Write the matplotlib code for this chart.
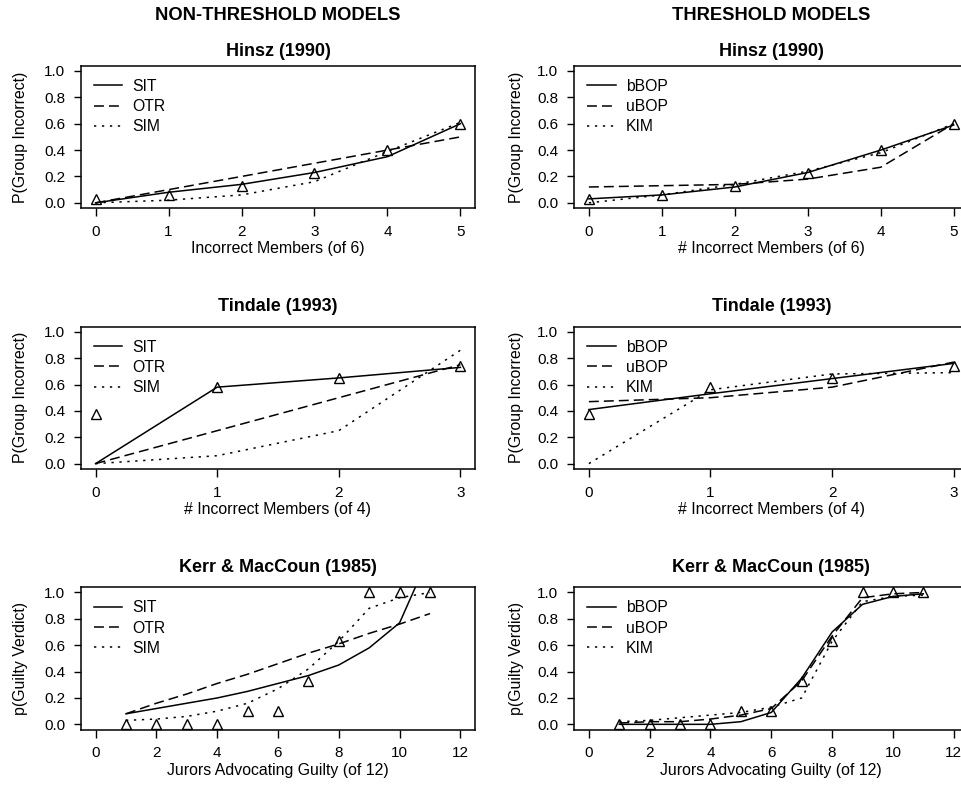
import matplotlib
matplotlib.use("Agg")
import matplotlib.pyplot as plt

plt.rcParams['font.family'] = ['Liberation Sans', 'DejaVu Sans']

# ---------------- data ----------------
hinsz_x = [0, 1, 2, 3, 4, 5]
hinsz_obs = [0.03, 0.06, 0.13, 0.23, 0.40, 0.60]
hinsz_sit = [0.00, 0.08, 0.14, 0.23, 0.35, 0.60]
hinsz_otr = [0.00, 0.10, 0.20, 0.30, 0.40, 0.50]
hinsz_sim = [0.00, 0.02, 0.06, 0.16, 0.39, 0.61]
hinsz_bbop = [0.03, 0.06, 0.12, 0.23, 0.40, 0.59]
hinsz_ubop = [0.12, 0.13, 0.14, 0.18, 0.27, 0.60]
hinsz_kim = [0.00, 0.06, 0.14, 0.24, 0.38, 0.60]

tind_x = [0, 1, 2, 3]
tind_obs = [0.38, 0.58, 0.65, 0.74]
tind_sit = [0.00, 0.58, 0.65, 0.73]
tind_otr = [0.00, 0.25, 0.50, 0.75]
tind_sim = [0.00, 0.06, 0.25, 0.86]
tind_bbop = [0.41, 0.53, 0.645, 0.76]
tind_ubop = [0.47, 0.50, 0.58, 0.77]
tind_kim = [0.00, 0.56, 0.68, 0.69]

kerr_x = [1, 2, 3, 4, 5, 6, 7, 8, 9, 10, 11]
kerr_obs = [0.0, 0.0, 0.0, 0.0, 0.10, 0.10, 0.33, 0.63, 1.0, 1.0, 1.0]
kerr_sit = [0.08, 0.12, 0.16, 0.20, 0.25, 0.31, 0.37, 0.45, 0.58, 0.77, 1.29]
kerr_otr = [0.08, 0.16, 0.23, 0.31, 0.38, 0.46, 0.54, 0.61, 0.69, 0.76, 0.84]
kerr_sim = [0.03, 0.04, 0.06, 0.10, 0.16, 0.27, 0.42, 0.63, 0.88, 0.96, 1.00]
kerr_bbop = [0.00, 0.00, 0.00, 0.00, 0.02, 0.09, 0.35, 0.70, 0.91, 0.97, 0.99]
kerr_ubop = [0.01, 0.02, 0.02, 0.04, 0.07, 0.12, 0.33, 0.67, 0.96, 0.99, 1.00]
kerr_kim = [0.02, 0.03, 0.05, 0.07, 0.09, 0.13, 0.20, 0.63, 0.93, 0.97, 0.98]

nonthr_labels = ["SIT", "OTR", "SIM"]
thr_labels = ["bBOP", "uBOP", "KIM"]
col_headers = ["NON-THRESHOLD MODELS", "THRESHOLD MODELS"]
row_titles = ["Hinsz (1990)", "Tindale (1993)", "Kerr & MacCoun (1985)"]
left_xlabels = ["Incorrect Members (of 6)", "# Incorrect Members (of 4)",
                "Jurors Advocating Guilty (of 12)"]
right_xlabels = ["# Incorrect Members (of 6)", "# Incorrect Members (of 4)",
                 "Jurors Advocating Guilty (of 12)"]
ylabels = ["P(Group Incorrect)", "P(Group Incorrect)", "p(Guilty Verdict)"]
yticks = [0.0, 0.2, 0.4, 0.6, 0.8, 1.0]
xticks_rows = [[0, 1, 2, 3, 4, 5], [0, 1, 2, 3], [0, 2, 4, 6, 8, 10, 12]]
xmax_rows = [5, 3, 12]

# ---------------- layout ----------------
W, H = 961, 790
fig = plt.figure(figsize=(W / 100, H / 100), dpi=100)

def fx(x):
    return x / W

def fy(y):
    return 1 - y / H

col_left = [81, 574.3]
ax_w = 394
row_top = [65.7, 326.5, 587.2]
title_y = [52, 306.5, 567.2]
ax_h = 142.4

FS = 11
FS_LAB = 11.4
LW = 1.1
styles = ['-', (0, (6.5, 3.3)), (0, (1.5, 3.7))]

data = [
    [(hinsz_x, hinsz_obs, [hinsz_sit, hinsz_otr, hinsz_sim]),
     (hinsz_x, hinsz_obs, [hinsz_bbop, hinsz_ubop, hinsz_kim])],
    [(tind_x, tind_obs, [tind_sit, tind_otr, tind_sim]),
     (tind_x, tind_obs, [tind_bbop, tind_ubop, tind_kim])],
    [(kerr_x, kerr_obs, [kerr_sit, kerr_otr, kerr_sim]),
     (kerr_x, kerr_obs, [kerr_bbop, kerr_ubop, kerr_kim])],
]

for c in range(2):
    cx = col_left[c] + ax_w / 2
    fig.text(fx(cx), fy(16), col_headers[c], ha='center', va='center',
             fontsize=13.2, fontweight='bold')

for r in range(3):
    for c in range(2):
        left = col_left[c]
        top = row_top[r]
        ax = fig.add_axes([fx(left), fy(top + ax_h), ax_w / W, ax_h / H])
        xs, obs, models = data[r][c]
        labels = nonthr_labels if c == 0 else thr_labels
        for m, ls, lab in zip(models, styles, labels):
            ax.plot(xs, m, color='black', lw=LW, linestyle=ls, label=lab)
        ax.plot(xs, obs, linestyle='none', marker='^', markersize=6.5,
                markerfacecolor='none', markeredgecolor='black',
                markeredgewidth=1.0, clip_on=False)
        xm = xmax_rows[r]
        ax.set_xlim(-0.04 * xm, 1.04 * xm)
        ax.set_ylim(-0.04, 1.04)
        ax.set_xticks(xticks_rows[r])
        ax.set_yticks(yticks)
        ax.set_yticklabels([f"{v:.1f}" for v in yticks])
        ax.tick_params(axis='x', length=5.5, width=1.0, pad=6.5, labelsize=FS)
        ax.tick_params(axis='y', length=5, width=1.0, pad=6.5, labelsize=FS)
        for s in ax.spines.values():
            s.set_linewidth(1.1)
        ax.legend(loc='upper left', frameon=False, fontsize=11.3,
                  handlelength=1.8, handletextpad=0.65,
                  labelspacing=0.33, borderaxespad=0.42,
                  borderpad=0.42)
        cx = left + ax_w / 2
        xl = left_xlabels[r] if c == 0 else right_xlabels[r]
        fig.text(fx(cx), fy(top + ax_h + 40.5), xl, ha='center', va='center',
                 fontsize=FS_LAB)
        fig.text(fx(cx), fy(title_y[r]), row_titles[r], ha='center',
                 va='center', fontsize=13, fontweight='bold')
        ylx = 20.5 if c == 0 else 516.7
        fig.text(fx(ylx), fy(top + ax_h / 2), ylabels[r], ha='center',
                 va='center', rotation=90, fontsize=FS_LAB)

fig.savefig("out.png", dpi=100)
